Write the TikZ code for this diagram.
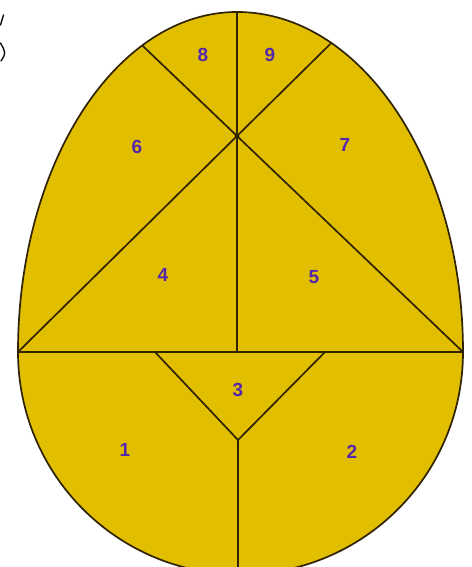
\documentclass[tikz,border=0pt]{standalone}
\usepackage{fontspec}
\usetikzlibrary{calc}
\setmainfont{Liberation Sans}
\begin{document}
\begin{tikzpicture}[x=1pt,y=1pt]
\definecolor{eggfill}{RGB}{226,190,0}
\definecolor{edgecol}{RGB}{48,36,0}
\definecolor{numcol}{RGB}{85,40,170}
\tikzset{
  cut/.style={draw=edgecol,line width=1.7pt,line join=round},
  num/.style={text=numcol,font=\fontsize{19}{19}\selectfont\bfseries,inner sep=0pt}
}
\useasboundingbox (0,0) rectangle (471,567);
\fill[white] (0,0) rectangle (471,567);
% key points
\coordinate (A) at (18,215);
\coordinate (B) at (463,215);
\coordinate (C) at (237,431);
\coordinate (T) at (237,555);
\coordinate (E) at ($(B)!1.45!(C)$);
\coordinate (F) at ($(A)!1.45!(C)$);
\coordinate (D) at (237,215);
\coordinate (P1) at (155,215);
\coordinate (P2) at (325,215);
\coordinate (V) at (238,127);
\coordinate (bot) at (238,-10);
\def\eggpath{(A) arc[start angle=180,end angle=90,x radius=219,y radius=340]
  arc[start angle=90,end angle=0,x radius=226,y radius=340]
  arc[start angle=0,end angle=-180,radius=222.5] -- cycle}
\begin{scope}
\clip (0,0) rectangle (471,567);
\fill[eggfill] \eggpath;
\begin{scope}
\clip \eggpath;
\draw[cut] (A) -- (F);
\draw[cut] (B) -- (E);
\draw[cut] (T) -- (D);
\draw[cut] (A) -- (B);
\draw[cut] (P1) -- (V) -- (P2);
\draw[cut] (V) -- (bot);
\end{scope}
\draw[cut] \eggpath;
\end{scope}
\fill[edgecol] (C) circle[radius=2.4];
% labels
\node[num] (n8) at (203,512) {8};
\node[num] (n9) at (270,512) {9};
\node[num] (n6) at (137,420) {6};
\node[num] (n7) at (345,422) {7};
\node[num] (n4) at (163,292) {4};
\node[num] (n5) at (314,290) {5};
\node[num] (n3) at (238,177) {3};
\node[num] (n1) at (125,117) {1};
\node[num] (n2) at (352,115) {2};
% stray marks at top left
\draw[black,line width=1.3pt,line cap=round] (3.5,552) .. controls (2.5,547) .. (0.5,542);
\draw[black,line width=1.3pt,line cap=round] (0.5,524) .. controls (6,514) .. (1,506);
\end{tikzpicture}
\end{document}
